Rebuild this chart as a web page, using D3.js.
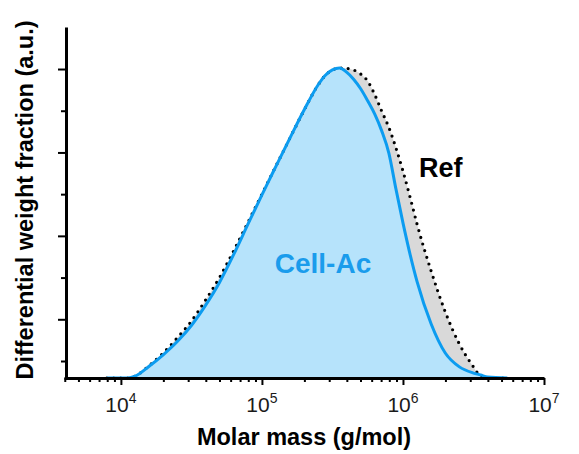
<!DOCTYPE html>
<html>
<head>
<meta charset="utf-8">
<script src="https://cdn.jsdelivr.net/npm/d3@7"></script>
<style>
  body { margin: 0; background: #fff; }
  text { font-family: "Liberation Sans", Arial, sans-serif; }
</style>
</head>
<body>
<script>
// molar mass (g/mol) and normalised differential weight fraction
var molarMass = [7940, 11220, 12590, 15850, 19950, 25120, 31620, 39810, 50120, 63100, 79430,
  100000, 125900, 158500, 199500, 251200, 281800, 316200, 354800, 398100, 446700, 501200,
  562300, 631000, 707900, 794300, 891300, 1000000, 1122000, 1259000, 1585000, 1995000,
  2512000, 3162000, 3548000, 3981000, 5495000];
var cellAc = [0, 0, 0.006, 0.038, 0.075, 0.118, 0.170, 0.235, 0.310, 0.400, 0.497,
  0.593, 0.686, 0.778, 0.868, 0.950, 0.980, 0.997, 1.003, 0.990, 0.967, 0.936,
  0.897, 0.854, 0.799, 0.728, 0.612, 0.502, 0.401, 0.312, 0.175, 0.081,
  0.036, 0.016, 0.010, 0.003, 0];
var ref = [0, 0, 0.006, 0.040, 0.081, 0.130, 0.184, 0.252, 0.326, 0.412, 0.503,
  0.595, 0.687, 0.778, 0.868, 0.950, 0.980, 0.997, 1.003, 1.002, 0.997, 0.984,
  0.961, 0.917, 0.863, 0.811, 0.745, 0.670, 0.586, 0.498, 0.346, 0.214,
  0.110, 0.036, 0.006, 0, 0];

var xMajor = [1e4, 1e5, 1e6, 1e7];
var xMinor = [4e3, 5e3, 6e3, 7e3, 8e3, 9e3, 2e4, 3e4, 4e4, 5e4, 6e4, 7e4, 8e4, 9e4,
  2e5, 3e5, 4e5, 5e5, 6e5, 7e5, 8e5, 9e5, 2e6, 3e6, 4e6, 5e6, 6e6, 7e6, 8e6, 9e6];
var xExponents = ["4", "5", "6", "7"];
var yMajor = [0.19, 0.46, 0.73, 1.0];
var yMinor = [0.055, 0.325, 0.595, 0.865];

var width = 579, height = 454;

var svg = d3.select("body")
  .append("svg")
  .attr("width", width)
  .attr("height", height);

var x = d3.scaleLog()
  .domain([3950, 1e7])
  .range([64, 544]);

var y = d3.scaleLinear()
  .domain([0, 1.136])
  .range([378, 27]);

var points = molarMass.map(function (m, i) { return { m: m, a: cellAc[i], r: ref[i] }; });

var areaRef = d3.area()
  .x(function (d) { return x(d.m); })
  .y0(y(0))
  .y1(function (d) { return y(d.r); })
  .curve(d3.curveMonotoneX);

var areaCell = d3.area()
  .x(function (d) { return x(d.m); })
  .y0(y(0))
  .y1(function (d) { return y(d.a); })
  .curve(d3.curveMonotoneX);

var lineRef = d3.line()
  .x(function (d) { return x(d.m); })
  .y(function (d) { return y(d.r); })
  .curve(d3.curveMonotoneX);

var lineCell = d3.line()
  .x(function (d) { return x(d.m); })
  .y(function (d) { return y(d.a); })
  .curve(d3.curveMonotoneX);

svg.append("path")
  .datum(points)
  .attr("d", areaRef)
  .attr("fill", "#d9d9d9");

svg.append("path")
  .datum(points)
  .attr("d", areaCell)
  .attr("fill", "#b6e3fb");

svg.append("path")
  .datum(points)
  .attr("d", lineRef)
  .attr("fill", "none")
  .attr("stroke", "#000")
  .attr("stroke-width", 3.2)
  .attr("stroke-linecap", "round")
  .attr("stroke-dasharray", "0 7");

svg.append("path")
  .datum(points)
  .attr("d", lineCell)
  .attr("fill", "none")
  .attr("stroke", "#0c9cf0")
  .attr("stroke-width", 3);

// x axis: minor ticks, major ticks
svg.append("g")
  .attr("transform", "translate(0," + y(0) + ")")
  .call(d3.axisBottom(x).tickValues(xMinor).tickSize(4).tickSizeOuter(0).tickFormat(""))
  .call(function (g) {
    g.select(".domain").remove();
    g.selectAll("line").attr("stroke-width", 2);
  });

svg.append("g")
  .attr("transform", "translate(0," + y(0) + ")")
  .call(d3.axisBottom(x).tickValues(xMajor).tickSize(7).tickSizeOuter(0).tickFormat(""))
  .call(function (g) {
    g.select(".domain").attr("stroke-width", 3);
    g.selectAll("line").attr("stroke-width", 2);
  });

// tick labels 10^n
svg.append("g")
  .selectAll("text")
  .data(xMajor)
  .enter()
  .append("text")
  .attr("x", function (d) { return x(d); })
  .attr("y", 412)
  .attr("text-anchor", "middle")
  .attr("fill", "#1a1a1a")
  .style("font-size", "21px")
  .each(function (d, i) {
    var t = d3.select(this);
    t.append("tspan").text("10");
    t.append("tspan").attr("dy", -9).style("font-size", "14px").text(xExponents[i]);
  });

// y axis
svg.append("g")
  .attr("transform", "translate(66,0)")
  .call(d3.axisLeft(y).tickValues(yMinor).tickSize(5).tickSizeOuter(0).tickFormat(""))
  .call(function (g) {
    g.select(".domain").remove();
    g.selectAll("line").attr("stroke-width", 2);
  });

svg.append("g")
  .attr("transform", "translate(66,0)")
  .call(d3.axisLeft(y).tickValues(yMajor).tickSize(8).tickSizeOuter(0).tickFormat(""))
  .call(function (g) {
    g.select(".domain").attr("stroke-width", 3);
    g.selectAll("line").attr("stroke-width", 2);
  });

// axis titles
svg.append("text")
  .attr("x", 304)
  .attr("y", 445)
  .attr("text-anchor", "middle")
  .style("font-size", "23.5px")
  .style("font-weight", "bold")
  .text("Molar mass (g/mol)");

svg.append("text")
  .attr("transform", "translate(33,200) rotate(-90)")
  .attr("text-anchor", "middle")
  .style("font-size", "23.5px")
  .style("font-weight", "bold")
  .text("Differential weight fraction (a.u.)");

// series labels
svg.append("text")
  .attr("x", 323)
  .attr("y", 273)
  .attr("text-anchor", "middle")
  .attr("fill", "#1a9cec")
  .style("font-size", "28px")
  .style("font-weight", "bold")
  .text("Cell-Ac");

svg.append("text")
  .attr("x", 419)
  .attr("y", 177)
  .style("font-size", "27px")
  .style("font-weight", "bold")
  .text("Ref");
</script>
</body>
</html>
